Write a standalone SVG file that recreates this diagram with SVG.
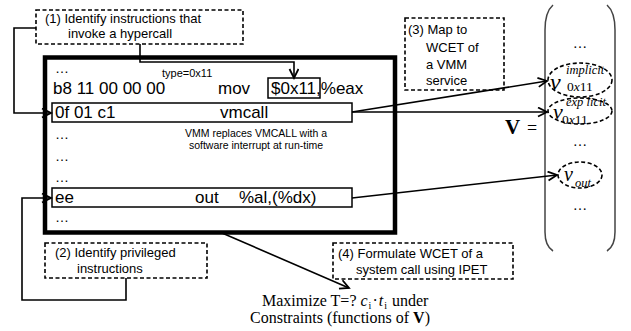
<svg xmlns="http://www.w3.org/2000/svg" width="631" height="331" viewBox="0 0 631 331">
<style>
.s{font-family:"Liberation Sans",Arial,sans-serif;fill:#000}
.code{font-size:17px}
.lbl{font-size:13px}
.m{font-family:"Liberation Serif","Times New Roman",serif;fill:#000}
.dash{fill:none;stroke:#000;stroke-width:1.6;stroke-dasharray:4 2.5}
.box{fill:none;stroke:#000;stroke-width:1.5}
.con{fill:none;stroke:#000;stroke-width:1.6}
.paren{fill:none;stroke:#444;stroke-width:1.5}
</style>
<defs>
<marker id="arr" markerUnits="userSpaceOnUse" markerWidth="12" markerHeight="12" refX="10" refY="5" orient="auto">
<path d="M1,0.5 L10,5 L1,9.5" fill="none" stroke="#000" stroke-width="1.8"/>
</marker>
</defs>

<g id="code-box">
<rect x="45" y="57.5" width="350" height="175" fill="#fff" stroke="#000" stroke-width="4.5"/>
<text class="s" x="55" y="73" font-size="14">…</text>
<text class="s" x="162" y="77" font-size="11">type=0x11</text>
<text class="s code" x="53" y="94">b8 11 00 00 00</text>
<text class="s code" x="218" y="94">mov</text>
<text class="s code" x="271" y="94">$0x11,%eax</text>
<rect class="box" x="268" y="78" width="52" height="20"/>
<rect class="box" x="52" y="103" width="300" height="19" fill="#fff"/>
<text class="s code" x="55" y="118">0f 01 c1</text>
<text class="s code" x="220" y="118">vmcall</text>
<text class="s" x="256" y="137" font-size="10.5" text-anchor="middle">VMM replaces VMCALL with a</text>
<text class="s" x="256" y="149" font-size="10.5" text-anchor="middle">software interrupt at run-time</text>
<text class="s" x="55" y="139" font-size="14">…</text>
<text class="s" x="55" y="161" font-size="14">…</text>
<text class="s" x="55" y="182" font-size="14">…</text>
<rect class="box" x="52" y="188" width="300" height="19" fill="#fff"/>
<text class="s code" x="55" y="203">ee</text>
<text class="s code" x="195" y="203">out</text>
<text class="s code" x="239" y="203">%al,(%dx)</text>
<text class="s" x="55" y="222" font-size="14">…</text>
</g>

<g id="step1">
<rect class="dash" x="36" y="10" width="207" height="34"/>
<text class="s lbl" x="45" y="23">(1)  Identify instructions that</text>
<text class="s lbl" x="68" y="38">invoke a hypercall</text>
</g>

<g id="step2">
<rect class="dash" x="45" y="243" width="162" height="35"/>
<text class="s lbl" x="55" y="257">(2) Identify privileged</text>
<text class="s lbl" x="77" y="273">instructions</text>
</g>

<g id="step3">
<rect class="dash" x="405" y="18" width="99" height="72"/>
<text class="s lbl" x="408" y="34">(3) Map to</text>
<text class="s lbl" x="426" y="52">WCET of</text>
<text class="s lbl" x="426" y="69">a VMM</text>
<text class="s lbl" x="426" y="85">service</text>
</g>

<g id="step4">
<rect class="dash" x="333" y="243" width="180" height="36"/>
<text class="s lbl" x="338" y="258">(4) Formulate WCET of a</text>
<text class="s lbl" x="356" y="274">system call using IPET</text>
</g>

<g id="vector">
<path class="paren" d="M553,5 Q545,12 545,30 L545,232 Q545,246 553,251"/>
<path class="paren" d="M607,5 Q615,12 615,30 L615,232 Q615,246 607,251"/>
<text class="m" x="505" y="134" font-size="21" font-weight="bold">V</text>
<text class="m" x="527" y="134" font-size="18">=</text>
<text class="m" x="580" y="48" font-size="14" text-anchor="middle">…</text>
<ellipse class="dash" cx="580" cy="80" rx="32" ry="17" stroke-width="1.8"/>
<text class="m" x="550" y="90" font-size="24" font-style="italic">v</text>
<text class="m" x="566" y="74" font-size="12.5" font-style="italic">implicit</text>
<text class="m" x="567" y="91" font-size="13.5">0<tspan font-style="italic">x</tspan>11</text>
<ellipse class="dash" cx="580" cy="111" rx="32" ry="13" stroke-width="1.8"/>
<text class="m" x="553" y="119" font-size="22" font-style="italic">v</text>
<text class="m" x="566" y="106" font-size="12.5" font-style="italic">exp licit</text>
<text class="m" x="562" y="124" font-size="13.5">0<tspan font-style="italic">x</tspan>11</text>
<text class="m" x="580" y="146" font-size="14" text-anchor="middle">…</text>
<ellipse class="dash" cx="580" cy="175" rx="22" ry="13" stroke-width="1.8"/>
<text class="m" x="564" y="181" font-size="20" font-style="italic">v</text>
<text class="m" x="575" y="187" font-size="12.5" font-style="italic">out</text>
<text class="m" x="580" y="210" font-size="14" text-anchor="middle">…</text>
</g>

<g id="ipet">
<text class="m" x="262" y="306" font-size="16">Maximize T=? <tspan font-style="italic">c</tspan><tspan font-size="10" dy="3" dx="1">i</tspan><tspan dy="-3" dx="1">·</tspan><tspan font-style="italic" dx="1">t</tspan><tspan font-size="10" dy="3" dx="1">i</tspan><tspan dy="-3" dx="1"> under</tspan></text>
<text class="m" x="250" y="323" font-size="16">Constraints (functions of <tspan font-weight="bold">V</tspan>)</text>
</g>

<g id="connectors">
<path class="con" d="M36,28 H14 V113 H51" marker-end="url(#arr)"/>
<path class="con" d="M126,278 V300 H22 V198 H51" marker-end="url(#arr)"/>
<path class="con" d="M140,44 V62 H294 V78" marker-end="url(#arr)"/>
<path class="con" d="M222,233 L349,288" marker-end="url(#arr)"/>
<path class="con" d="M352,112 L547,81" marker-end="url(#arr)"/>
<path class="con" d="M352,112 L547,112" marker-end="url(#arr)"/>
<path class="con" d="M352,198 L557,175" marker-end="url(#arr)"/>
</g>
</svg>
